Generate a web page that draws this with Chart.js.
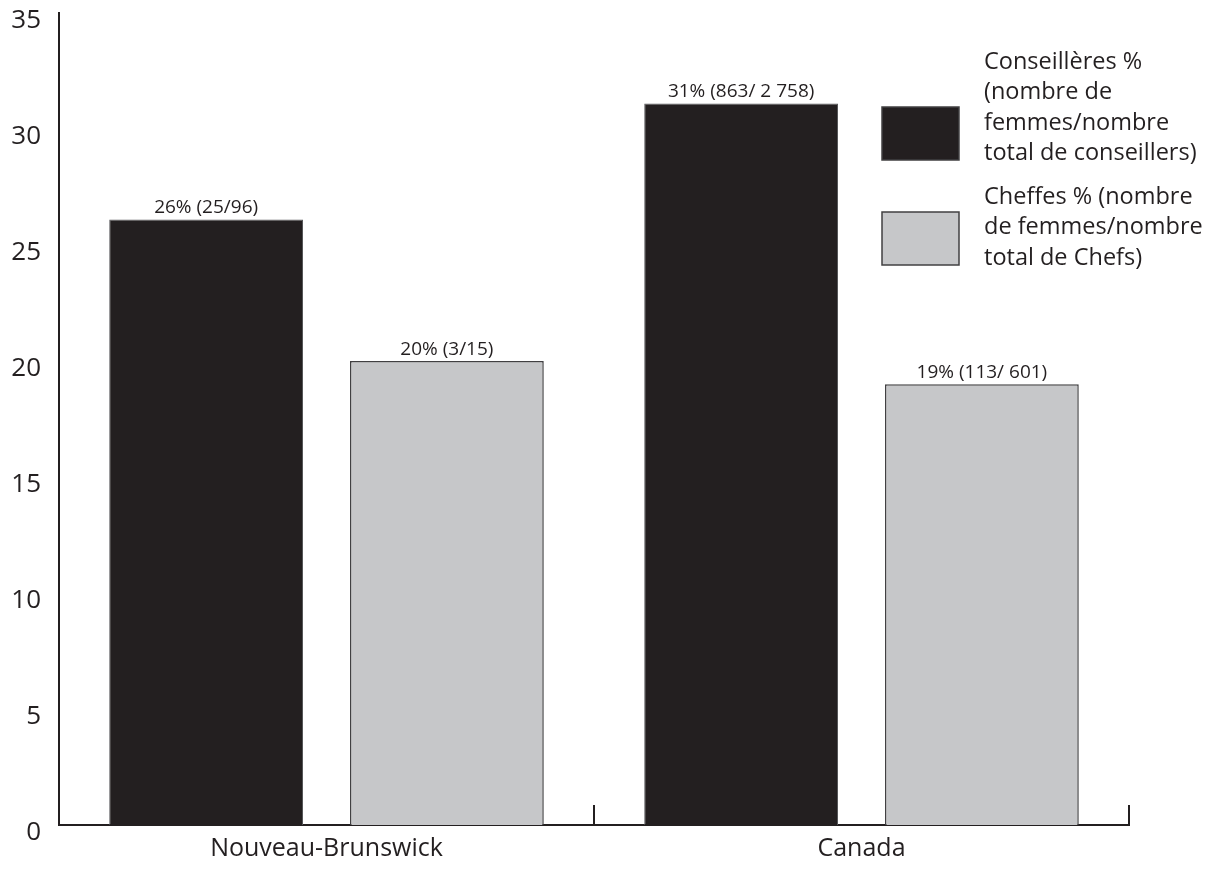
<!DOCTYPE html>
<html>
<head>
<meta charset="utf-8">
<script src="https://cdn.jsdelivr.net/npm/chart.js@4.4.1/dist/chart.umd.min.js"></script>
<style>
  body { margin: 0; background: #ffffff; }
  #wrap { width: 1220px; height: 873px; }
</style>
</head>
<body>
<div id="wrap"><canvas id="chart" width="1220" height="873"></canvas></div>
<script>
// data
const categories = ['Nouveau-Brunswick', 'Canada'];
const conseilleres = [26.1, 31.1];
const cheffes = [20.0, 19.0];
const conseilleresLabels = ['26% (25/96)', '31% (863/ 2 758)'];
const cheffesLabels = ['20% (3/15)', '19% (113/ 601)'];
const legendConseilleres = ['Conseillères %', '(nombre de', 'femmes/nombre', 'total de conseillers)'];
const legendCheffes = ['Cheffes % (nombre', 'de femmes/nombre', 'total de Chefs)'];
const yMax = 35;
const yStep = 5;

const FONT = "'Open Sans', sans-serif";
const INK = '#231f20';
const BLACK = '#231f20';
const GREY = '#c6c7c9';

// value labels above bars
const barLabels = {
  id: 'barLabels',
  afterDatasetsDraw(chart) {
    const ctx = chart.ctx;
    const texts = [conseilleresLabels, cheffesLabels];
    ctx.save();
    ctx.font = '19px ' + FONT;
    ctx.fillStyle = INK;
    ctx.textAlign = 'center';
    ctx.textBaseline = 'alphabetic';
    chart.data.datasets.forEach((ds, i) => {
      chart.getDatasetMeta(i).data.forEach((bar, j) => {
        ctx.fillText(texts[i][j], bar.x, bar.y - 6);
      });
    });
    ctx.restore();
  }
};

// small upward ticks on x axis at category boundaries
const xTicks = {
  id: 'xTicks',
  afterDraw(chart) {
    const ctx = chart.ctx;
    const area = chart.chartArea;
    const n = chart.data.labels.length;
    const step = (area.right - area.left) / n;
    ctx.save();
    ctx.strokeStyle = INK;
    ctx.lineWidth = 2;
    for (let i = 1; i <= n; i++) {
      const x = Math.round(area.left + i * step);
      ctx.beginPath();
      ctx.moveTo(x, area.bottom);
      ctx.lineTo(x, area.bottom - 20);
      ctx.stroke();
    }
    ctx.restore();
  }
};

// legend boxes with wrapped text
const sideLegend = {
  id: 'sideLegend',
  afterDraw(chart) {
    const ctx = chart.ctx;
    const items = [
      { lines: legendConseilleres, fill: BLACK, boxTop: 107, textTop: 62 },
      { lines: legendCheffes, fill: GREY, boxTop: 212, textTop: 197 }
    ];
    ctx.save();
    ctx.font = '23.5px ' + FONT;
    ctx.textAlign = 'left';
    ctx.textBaseline = 'middle';
    items.forEach(item => {
      ctx.fillStyle = item.fill;
      ctx.fillRect(882, item.boxTop, 77, 53);
      ctx.strokeStyle = '#414042';
      ctx.lineWidth = 1.5;
      ctx.strokeRect(882, item.boxTop, 77, 53);
      ctx.fillStyle = INK;
      item.lines.forEach((line, k) => {
        ctx.fillText(line, 984, item.textTop + k * 30.5);
      });
    });
    ctx.restore();
  }
};

function createChart() {
  const ctx = document.getElementById('chart').getContext('2d');
  new Chart(ctx, {
    type: 'bar',
    data: {
      labels: categories,
      datasets: [{
        label: 'Conseillères',
        data: conseilleres,
        backgroundColor: BLACK,
        borderColor: '#58595b',
        borderWidth: 1,
        categoryPercentage: 0.9,
        barPercentage: 0.805
      }, {
        label: 'Cheffes',
        data: cheffes,
        backgroundColor: GREY,
        borderColor: '#414042',
        borderWidth: 1.5,
        categoryPercentage: 0.9,
        barPercentage: 0.805
      }]
    },
    options: {
      responsive: false,
      animation: false,
      layout: {
        padding: { top: 13, right: 91, left: 0, bottom: 0 }
      },
      plugins: {
        legend: { display: false },
        tooltip: { enabled: false }
      },
      scales: {
        x: {
          grid: { display: false },
          border: { display: true, color: INK, width: 2 },
          ticks: {
            color: INK,
            padding: 1,
            font: { family: FONT, size: 25 }
          },
          afterFit(scale) {
            scale.height = 48;
            scale.paddingLeft = 0;
            scale.paddingRight = 0;
          }
        },
        y: {
          min: 0,
          max: yMax,
          grid: { display: false, drawTicks: false },
          border: { display: true, color: INK, width: 2 },
          ticks: {
            stepSize: yStep,
            color: INK,
            padding: 18,
            labelOffset: 8,
            font: { family: FONT, size: 26 }
          },
          afterFit(scale) {
            scale.width = 59;
            scale.paddingTop = 0;
            scale.paddingBottom = 0;
          }
        }
      }
    },
    plugins: [barLabels, xTicks, sideLegend]
  });
}

document.addEventListener('DOMContentLoaded', createChart);
</script>
</body>
</html>
